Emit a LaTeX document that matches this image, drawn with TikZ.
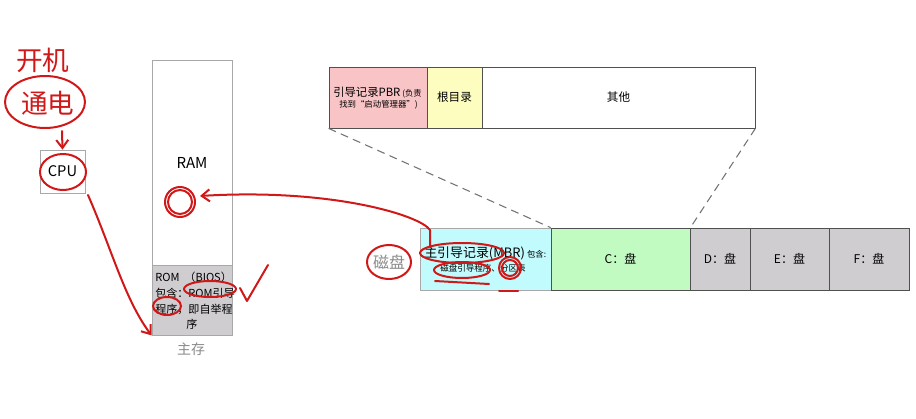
\documentclass[tikz,border=0pt]{standalone}
\usepackage{fontspec}
\setmainfont{Noto Sans CJK SC}
\usetikzlibrary{arrows.meta,fit}

\definecolor{rimgray}{HTML}{A8A8A8}
\definecolor{darkrim}{HTML}{505050}
\definecolor{romgray}{HTML}{CFCDD0}
\definecolor{pbrpink}{HTML}{F8C4C6}
\definecolor{rootyellow}{HTML}{FDFDC0}
\definecolor{mbrcyan}{HTML}{C2FBFD}
\definecolor{cgreen}{HTML}{C2FBC2}
\definecolor{penred}{HTML}{D01818}
\definecolor{labelgray}{HTML}{8A8A8A}

\newcommand{\fs}[1]{\fontsize{#1}{#1}\selectfont}

\begin{document}
\begin{tikzpicture}[x=0.75pt,y=-0.75pt,
  cell/.style={draw=rimgray, line width=0.6pt, inner sep=0pt},
  part/.style={draw=darkrim, line width=0.6pt, inner sep=0pt},
  word/.style={inner sep=0pt, font=\fs{#1}},
  word/.default=8.7,
  pen/.style={draw=penred, line width=1.5pt, line cap=round, line join=round},
  hand/.style={text=penred, inner sep=0pt, font=\fs{20}},
  tip/.style={-{Straight Barb[length=6pt,width=9pt]}}]

  \useasboundingbox (0,0) rectangle (916,418);

  % cpu and main memory
  \node[cell, fit={(40,150) (85,193)}] (cpu) {};
  \node[word=11] (cputext) at (cpu) {CPU};
  \node[cell, fit={(152,60) (232,265)}] (ram) {};
  \node[word=11.3] (ramtext) at (ram) {RAM};
  \node[cell, fill=romgray, fit={(152,265) (232,335)}] (rom) {};
  \node[word=8.3, anchor=west] (romline1) at (155,277) {ROM\ \ （BIOS）};
  \node[word=8.3, anchor=west] (romline2) at (155,293) {包含：ROM引导};
  \node[word=8.3, anchor=west] (romline3) at (155,309) {程序，即自举程};
  \node[word=8.3, anchor=west] (romline4) at (186,324) {序};
  \node[word=10.5, text=labelgray] (mainmem) at (191,349) {主存};

  % partition detail
  \node[part, fill=pbrpink, fit={(329,67) (427,128)}] (pbr) {};
  \node[word=8.5, anchor=west] (pbrline1) at (333,93) {引导记录PBR\,{\fs{6.2}(负责}};
  \node[word=6.3, anchor=west] (pbrline2) at (339,105) {找到“启动管理器”)};
  \node[part, fill=rootyellow, fit={(427,67) (482,128)}] (root) {};
  \node[word] (roottext) at (root) {根目录};
  \node[part, fit={(482,67) (755,128)}] (other) {};
  \node[word] (othertext) at (other) {其他};

  % disk
  \node[word=12, text=labelgray] (disk) at (389,262) {磁盘};
  \node[cell, fill=mbrcyan, fit={(420,228) (551,290)}] (mbr) {};
  \node[word=9.7, anchor=west] (mbrline1) at (424,253) {主引导记录(MBR)\,{\fs{6.3}包含:}};
  \node[word=6.4, anchor=west] (mbrline2) at (440,268) {磁盘引导程序、分区表};
  \node[part, fill=cgreen, fit={(551,228) (690,290)}] (cdrive) {};
  \node[word=9] (ctext) at (cdrive) {C：盘};
  \node[part, fill=romgray, fit={(690,228) (750,290)}] (ddrive) {};
  \node[word=9] (dtext) at (ddrive) {D：盘};
  \node[part, fill=romgray, fit={(750,228) (829,290)}] (edrive) {};
  \node[word=9] (etext) at (edrive) {E：盘};
  \node[part, fill=romgray, fit={(829,228) (909,290)}] (fdrive) {};
  \node[word=9] (ftext) at (fdrive) {F：盘};

  \draw[darkrim!80, line width=0.8pt, dash pattern=on 6pt off 4pt] (pbr.south west) -- (cdrive.north west);
  \draw[darkrim!80, line width=0.8pt, dash pattern=on 6pt off 4pt] (other.south east) -- (cdrive.north east);

  % red pen notes
  \node[hand] (poweron) at (43,60) {开机};
  \node[hand] (power) at (48,103) {通电};
  \draw[pen] (45,102) ellipse [x radius=40, y radius=26];
  \coordinate (powerend) at (62,131);
  \draw[pen, tip] (powerend) -- (cpu.north);
  \draw[pen] (63,172) ellipse [x radius=23, y radius=18];
  \draw[pen, tip] (88,195) .. controls (112,250) and (125,300) .. (rom.south west);

  \coordinate (ramspot) at (180,202);
  \draw[pen] (ramspot) circle [radius=15];
  \draw[pen] (ramspot) circle [radius=12];
  \coordinate (mbrstart) at (430,247);
  \draw[pen, tip] (mbrstart) -- (430,230) .. controls (420,215) and (330,188) .. (200,196);

  \draw[pen] (210,289) ellipse [x radius=26, y radius=8];
  \draw[pen] (167,306) ellipse [x radius=14, y radius=9];
  \draw[pen] (240,288) -- (247,301) -- (268,265);

  \draw[pen] (disk) ellipse [x radius=22, y radius=17];
  \draw[pen] (462,253) ellipse [x radius=42, y radius=10];
  \draw[pen] (462,270) ellipse [x radius=28, y radius=8];
  \draw[pen] (435,281) -- (489,284);
  \draw[pen] (510,268) circle [radius=11];
  \draw[pen] (510,268) circle [radius=8];
  \draw[pen] (499,291) -- (518,291);

\end{tikzpicture}
\end{document}
